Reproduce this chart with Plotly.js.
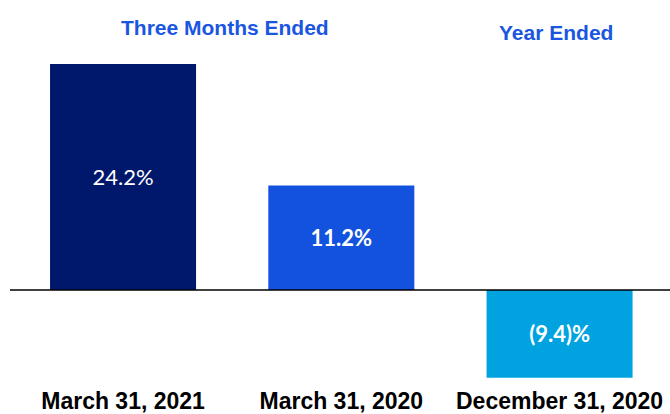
<!DOCTYPE html>
<html>
<head>
<meta charset="utf-8">
<script src="https://cdn.plot.ly/plotly-3.0.1.min.js"></script>
<style>
  html, body { margin: 0; padding: 0; background: #fff; }
  #chart { width: 670px; height: 414px; }
</style>
</head>
<body>
<div id="chart"></div>
<script>
const CHART = document.getElementById("chart");

var periods = ["March 31, 2021", "March 31, 2020", "December 31, 2020"];
var margins = [24.2, 11.2, -9.4];
var barColors = ["#00186b", "#1352de", "#00a3e0"];
var groupHeaders = ["Three Months Ended", "Year Ended"];

// negative numbers shown in parentheses, like the source deck
function fmt(v) {
    if (v < 0) return "(" + Math.abs(v).toFixed(1) + ")%";
    return v.toFixed(1) + "%";
}

var xs = [0, 1, 2];

Plotly.newPlot(CHART, [{
        type: "bar",
        x: xs,
        y: margins,
        width: 0.669,
        marker: { color: barColors },
        text: margins.map(fmt),
        textposition: "inside",
        insidetextanchor: "middle",
        textangle: 0,
        constraintext: "none",
        textfont: {
            family: "Lato, 'Open Sans', sans-serif",
            size: 22,
            color: "#ffffff",
            weight: [400, 700, 700]
        },
        hoverinfo: "none"
    }],
    {
        width: 670,
        height: 414,
        margin: { t: 40, r: 0, l: 10, b: 34 },
        paper_bgcolor: "#ffffff",
        plot_bgcolor: "#ffffff",
        showlegend: false,
        xaxis: {
            range: [-0.518, 2.506],
            tickvals: xs,
            ticktext: periods,
            showgrid: false,
            zeroline: false,
            showline: false,
            ticks: "",
            ticklabelstandoff: 5,
            tickfont: {
                family: "'Liberation Sans', Arial, sans-serif",
                size: 23,
                color: "#000000",
                weight: 700
            }
        },
        yaxis: {
            range: [-9.64, 26.77],
            showgrid: false,
            showticklabels: false,
            zeroline: false,
            showline: false,
            ticks: ""
        },
        shapes: [{
            type: "line", xref: "paper", yref: "y",
            x0: 0, x1: 1, y0: 0, y1: 0,
            line: { color: "#000000", width: 1.5 }
        }],
        annotations: [
            { text: groupHeaders[0], xref: "paper", yref: "paper", x: (225 - 10) / 660, y: 1.0,
              xanchor: "center", yanchor: "middle", yshift: 13, showarrow: false,
              font: { family: "'Liberation Sans', Arial, sans-serif", size: 21, color: "#1a56e0", weight: 700 } },
            { text: groupHeaders[1], xref: "paper", yref: "paper", x: (556 - 10) / 660, y: 1.0,
              xanchor: "center", yanchor: "middle", yshift: 8, showarrow: false,
              font: { family: "'Liberation Sans', Arial, sans-serif", size: 21, color: "#1a56e0", weight: 700 } }
        ]
    },
    { staticPlot: true }
);
</script>
</body>
</html>
